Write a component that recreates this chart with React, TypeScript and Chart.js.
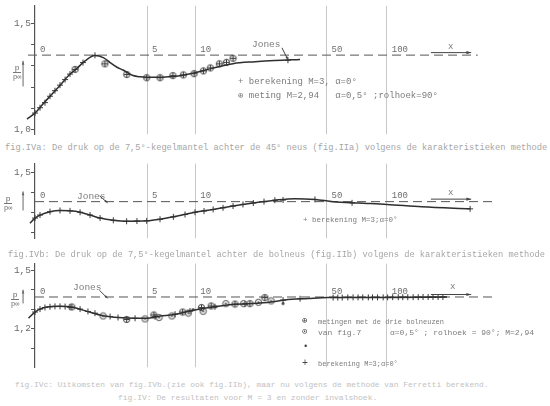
import React, { useEffect, useRef } from 'react';
import { Chart, registerables } from 'chart.js';

Chart.register(...registerables);

// ---------- shared x axis (distance x, plotted on a log(1 + x/2) scale) ----------
const X_TICKS = [0, 5, 10, 50, 100];
const X_TICK_LABELS = ['0', '5', '10', '50', '100'];
const toU = (x: number) => Math.log10(1 + x / 2);

// ---------- fig. IVa ----------
const A_CURVE_X = [-0.17, 0, 0.16, 0.37, 0.65, 0.96, 1.19, 1.5, 1.91, 2.29, 2.63, 3.0, 3.35, 3.98, 4.47, 5.0, 6.09, 7.36, 8.46, 9.96, 12.6, 16.3, 21.4, 27.2, 36.7];
const A_CURVE_P = [1.05, 1.078, 1.115, 1.158, 1.209, 1.261, 1.287, 1.323, 1.348, 1.338, 1.315, 1.293, 1.28, 1.254, 1.248, 1.246, 1.246, 1.25, 1.256, 1.267, 1.289, 1.31, 1.319, 1.325, 1.33];
const A_CROSS_X = [-0.15, 0, 0.115, 0.236, 0.365, 0.5, 0.645, 0.8, 0.958, 1.42, 1.91, 31.8];
const A_CROSS_P = [1.052, 1.078, 1.103, 1.127, 1.157, 1.183, 1.209, 1.235, 1.261, 1.315, 1.349, 1.326];
const A_METING_X = [1.13, 2.37, 3.58, 4.97, 6.09, 7.34, 8.5, 9.84, 11.14, 12.2, 13.7, 15.0, 16.3];
const A_METING_P = [1.283, 1.309, 1.259, 1.244, 1.244, 1.254, 1.257, 1.263, 1.276, 1.29, 1.309, 1.316, 1.335];
const A_JONES = 1.35;
const A_JONES_X = [-0.15, 280];
const A_Y_TICKS = [1.0, 1.1, 1.2, 1.3, 1.4, 1.5];
const A_Y_LABELS = ['1,0', '', '', '', '', '1,5'];

// ---------- fig. IVb ----------
const B_CURVE_X = [-0.11, 0, 0.115, 0.365, 0.645, 0.958, 1.31, 1.7, 2.14, 2.8, 3.57, 4.97, 6.09, 7.39, 9.96, 12.65, 16.3, 20.95, 27.2, 34.6, 43.7, 54.1, 72.2, 100.3, 149, 257];
const B_CURVE_P = [1.246, 1.272, 1.287, 1.304, 1.31, 1.308, 1.301, 1.287, 1.272, 1.261, 1.256, 1.258, 1.266, 1.278, 1.301, 1.315, 1.332, 1.347, 1.361, 1.369, 1.365, 1.354, 1.347, 1.34, 1.328, 1.318];
const B_CROSS_X = [-0.11, 0, 0.115, 0.365, 0.645, 0.958, 1.31, 1.7, 2.14, 2.8, 3.57, 4.25, 4.97, 6.09, 7.39, 8.7, 9.96, 11.23, 12.65, 14.36, 16.3, 18.45, 20.95, 23.87, 27.2, 30.0, 43.7, 67.2, 257];
const B_CROSS_P = [1.246, 1.272, 1.287, 1.304, 1.31, 1.308, 1.301, 1.287, 1.272, 1.261, 1.256, 1.257, 1.258, 1.266, 1.278, 1.29, 1.301, 1.307, 1.315, 1.323, 1.332, 1.34, 1.347, 1.354, 1.361, 1.362, 1.365, 1.348, 1.318];
const B_JONES = 1.354;
const B_JONES_X = [0, 340];
const B_Y_TICKS = [1.2, 1.3, 1.4, 1.5];
const B_Y_LABELS = ['', '', '', '1,5'];

// ---------- fig. IVc ----------
const C_CURVE_X = [-0.14, 0, 0.115, 0.28, 0.645, 1.07, 1.56, 2.28, 3.57, 4.97, 6.09, 7.39, 9.96, 12.65, 16.3, 22.7, 27.2, 30.7, 40.3, 50.9, 100.3, 198];
const C_CURVE_P = [1.254, 1.285, 1.3, 1.311, 1.314, 1.308, 1.289, 1.266, 1.254, 1.253, 1.265, 1.271, 1.296, 1.311, 1.324, 1.331, 1.339, 1.347, 1.354, 1.359, 1.36, 1.362];
const C_CROSS_X = [-0.14, 0, 0.115, 0.236, 0.365, 0.5, 0.645, 0.8, 0.958, 1.31, 1.615, 1.91, 2.63, 3.06, 4.12, 5.65, 7.57, 9.31, 12.95, 18.9, 30.0, 36.7, 54, 57, 60, 64, 68, 72, 76, 81, 85, 90, 96, 101, 107, 114, 120, 127, 135, 143, 151, 160, 169, 179, 189];
const C_CROSS_P = [1.254, 1.285, 1.3, 1.308, 1.312, 1.314, 1.314, 1.313, 1.31, 1.3, 1.288, 1.279, 1.262, 1.257, 1.253, 1.261, 1.274, 1.29, 1.312, 1.326, 1.346, 1.353, 1.359, 1.359, 1.359, 1.36, 1.36, 1.36, 1.36, 1.36, 1.36, 1.36, 1.36, 1.36, 1.361, 1.361, 1.361, 1.361, 1.361, 1.361, 1.362, 1.362, 1.362, 1.362, 1.362];
const C_METING1_X = [1.02, 3.57, 5.55, 8.42, 10.86, 12.33, 16.7, 20.1, 24.1];
const C_METING1_P = [1.311, 1.247, 1.27, 1.285, 1.308, 1.316, 1.326, 1.328, 1.359];
const C_METING2_X = [2.28, 4.84, 6.0, 7.24, 9.1, 11.1, 14.9, 18.6, 22.3, 26.0];
const C_METING2_P = [1.265, 1.25, 1.257, 1.265, 1.28, 1.289, 1.328, 1.328, 1.335, 1.342];
const C_METING3_X = [9.7, 13.1, 30.0];
const C_METING3_P = [1.297, 1.312, 1.328];
const C_JONES = 1.362;
const C_JONES_X = [0, 340];
const C_Y_TICKS = [1.1, 1.2, 1.3, 1.4, 1.5];
const C_Y_LABELS = ['', '1,2', '', '', '1,5'];

const FONT = "'Liberation Mono', 'DejaVu Sans Mono', monospace";
const INK = '#2f2f2f';

type Meting = { xs: number[]; ps: number[]; marker: 'plus' | 'dot' | 'small' };
type Panel = {
  top: number; height: number; yMin: number; yMax: number;
  yTicks: number[]; yLabels: string[];
  jones: number; jonesX: number[];
  curveX: number[]; curveP: number[];
  crossX: number[]; crossP: number[];
  metings: Meting[];
  jonesTip: number[]; jonesTail: number[];
  yArrow: number[];
};

const PANELS: Panel[] = [
  {
    top: 0, height: 140, yMin: 0.9784, yMax: 1.5819, yTicks: A_Y_TICKS, yLabels: A_Y_LABELS,
    jones: A_JONES, jonesX: A_JONES_X, curveX: A_CURVE_X, curveP: A_CURVE_P,
    crossX: A_CROSS_X, crossP: A_CROSS_P,
    metings: [{ xs: A_METING_X, ps: A_METING_P, marker: 'plus' }],
    jonesTip: [31.8, 1.328], jonesTail: [-6, -12], yArrow: [1.203, 1.323],
  },
  {
    top: 158, height: 86, yMin: 1.171, yMax: 1.5433, yTicks: B_Y_TICKS, yLabels: B_Y_LABELS,
    jones: B_JONES, jonesX: B_JONES_X, curveX: B_CURVE_X, curveP: B_CURVE_P,
    crossX: B_CROSS_X, crossP: B_CROSS_P, metings: [],
    jonesTip: [2.5, 1.348], jonesTail: [-8, -7], yArrow: [1.31, 1.405],
  },
  {
    top: 258, height: 115, yMin: 1.0023, yMax: 1.5323, yTicks: C_Y_TICKS, yLabels: C_Y_LABELS,
    jones: C_JONES, jonesX: C_JONES_X, curveX: C_CURVE_X, curveP: C_CURVE_P,
    crossX: C_CROSS_X, crossP: C_CROSS_P,
    metings: [
      { xs: C_METING1_X, ps: C_METING1_P, marker: 'plus' },
      { xs: C_METING2_X, ps: C_METING2_P, marker: 'dot' },
      { xs: C_METING3_X, ps: C_METING3_P, marker: 'small' },
    ],
    jonesTip: [2.5, 1.355], jonesTail: [-8, -8], yArrow: [1.329, 1.399],
  },
];

const pts = (xs: number[], ps: number[]) => xs.map((x, i) => ({ x: toU(x), y: ps[i] }));

function makeMarker(kind: 'plus' | 'dot' | 'small'): HTMLCanvasElement {
  const c = document.createElement('canvas');
  c.width = 9; c.height = 9;
  const g = c.getContext('2d')!;
  g.strokeStyle = '#3a3a3a'; g.fillStyle = '#3a3a3a'; g.lineWidth = 1;
  if (kind === 'small') {
    g.beginPath(); g.arc(4.5, 4.5, 1.4, 0, Math.PI * 2); g.fill();
    return c;
  }
  g.beginPath(); g.arc(4.5, 4.5, 3.1, 0, Math.PI * 2); g.stroke();
  if (kind === 'plus') {
    g.beginPath(); g.moveTo(4.5, 1.6); g.lineTo(4.5, 7.4); g.moveTo(1.6, 4.5); g.lineTo(7.4, 4.5); g.stroke();
  } else {
    g.beginPath(); g.arc(4.5, 4.5, 1.1, 0, Math.PI * 2); g.fill();
  }
  return c;
}

function arrow(ctx: CanvasRenderingContext2D, x1: number, y1: number, x2: number, y2: number, head: number) {
  ctx.beginPath(); ctx.moveTo(x1, y1); ctx.lineTo(x2, y2); ctx.stroke();
  const a = Math.atan2(y2 - y1, x2 - x1);
  ctx.beginPath();
  ctx.moveTo(x2, y2);
  ctx.lineTo(x2 - head * Math.cos(a - 0.32), y2 - head * Math.sin(a - 0.32));
  ctx.lineTo(x2 - head * Math.cos(a + 0.32), y2 - head * Math.sin(a + 0.32));
  ctx.closePath(); ctx.fill();
}

function buildConfig(p: Panel, markers: Record<string, HTMLCanvasElement>): any {
  const datasets: any[] = [
    {
      data: pts(p.curveX, p.curveP), showLine: true, cubicInterpolationMode: 'monotone',
      borderColor: INK, borderWidth: 1.5, pointRadius: 0, clip: false,
    },
    {
      data: pts(p.crossX, p.crossP), showLine: false, pointStyle: 'cross', pointRadius: 3,
      borderColor: '#3a3a3a', borderWidth: 1, clip: false,
    },
    ...p.metings.map((m) => ({
      data: pts(m.xs, m.ps), showLine: false, pointStyle: markers[m.marker], pointRadius: 4,
      clip: false,
    })),
    {
      data: pts(p.jonesX, [p.jones, p.jones]), showLine: true, borderDash: [9, 5],
      borderColor: '#555', borderWidth: 1, pointRadius: 0, clip: false,
    },
  ];

  const deco = {
    id: 'deco',
    afterDatasetsDraw(chart: any) {
      const { ctx, scales } = chart;
      const xs = scales.x, ys = scales.y;
      ctx.save();
      ctx.strokeStyle = '#444'; ctx.fillStyle = '#444'; ctx.lineWidth = 1;
      const tx = xs.getPixelForValue(toU(p.jonesTip[0]));
      const ty = ys.getPixelForValue(p.jonesTip[1]);
      arrow(ctx, tx + p.jonesTail[0], ty + p.jonesTail[1], tx, ty, 3.5);
      const jy = ys.getPixelForValue(p.jones) - 2.5;
      arrow(ctx, xs.getPixelForValue(toU(165)), jy, xs.getPixelForValue(toU(260)), jy, 5);
      const ax = xs.getPixelForValue(toU(-0.25));
      ctx.strokeStyle = '#666'; ctx.fillStyle = '#666';
      arrow(ctx, ax, ys.getPixelForValue(p.yArrow[0]), ax, ys.getPixelForValue(p.yArrow[1]), 4);
      ctx.restore();
    },
  };

  return {
    type: 'scatter',
    data: { datasets },
    plugins: [deco],
    options: {
      animation: false,
      responsive: false,
      devicePixelRatio: 1,
      layout: { autoPadding: false, padding: 0 },
      plugins: { legend: { display: false }, tooltip: { enabled: false } },
      scales: {
        x: {
          type: 'linear', min: 0, max: 2.5,
          position: { y: p.jones },
          afterFit: (s: any) => { s.height = 0; },
          afterBuildTicks: (s: any) => { s.ticks = X_TICKS.map((v) => ({ value: toU(v) })); },
          ticks: {
            autoSkip: false, maxRotation: 0, minRotation: 0, align: 'start', labelOffset: 5, padding: -11,
            color: '#6e6e6e', font: { family: FONT, size: 9 },
            callback: (_v: any, i: number) => X_TICK_LABELS[i],
          },
          grid: {
            color: (c: any) => (c.index === 0 ? 'rgba(0,0,0,0)' : '#c8c8c8'),
            lineWidth: 1, drawTicks: false,
          },
          border: { display: false },
        },
        y: {
          type: 'linear', min: p.yMin, max: p.yMax, position: 'left',
          afterFit: (s: any) => { s.width = 35; },
          afterBuildTicks: (s: any) => { s.ticks = p.yTicks.map((v) => ({ value: v })); },
          ticks: {
            autoSkip: false, padding: 0, color: '#6a6a6a', font: { family: FONT, size: 9.5 },
            callback: (_v: any, i: number) => p.yLabels[i],
          },
          grid: { drawOnChartArea: false, drawTicks: true, tickLength: 4, color: '#555' },
          border: { display: true, color: '#555', width: 1.2 },
        },
      },
    },
  };
}

const T = ({ x, y, s, c, children }: { x: number; y: number; s: number; c: string; children: React.ReactNode }) => (
  <div style={{ position: 'absolute', left: x, top: y - s * 0.6, fontSize: s, lineHeight: `${s * 1.2}px`, color: c, fontFamily: FONT, whiteSpace: 'pre' }}>{children}</div>
);

const Frac = ({ x, y }: { x: number; y: number }) => (
  <div style={{ position: 'absolute', left: x, top: y, fontFamily: FONT, fontSize: 8, lineHeight: '8px', color: '#666', textAlign: 'center' }}>
    <div>p</div>
    <div style={{ borderTop: '1px solid #777', fontSize: 7, lineHeight: '8px' }}>p∞</div>
  </div>
);

const CAP = '#a6a6a6';
const LEG = '#7c7c7c';

export default function App() {
  const refs = useRef<(HTMLCanvasElement | null)[]>([]);

  useEffect(() => {
    const markers = { plus: makeMarker('plus'), dot: makeMarker('dot'), small: makeMarker('small') };
    const charts = PANELS.map((p, i) => new Chart(refs.current[i] as HTMLCanvasElement, buildConfig(p, markers)));
    return () => charts.forEach((c) => c.destroy());
  }, []);

  return (
    <div style={{ position: 'absolute', left: 0, top: 0, width: 550, height: 406, background: '#fff', overflow: 'hidden' }}>
      {PANELS.map((p, i) => (
        <canvas
          key={i}
          ref={(el) => { refs.current[i] = el; }}
          width={550}
          height={p.height}
          style={{ position: 'absolute', left: 0, top: p.top, width: 550, height: p.height }}
        />
      ))}

      {/* fig IVa annotations */}
      <T x={252} y={45} s={9.5} c={LEG}>Jones</T>
      <T x={448} y={47} s={9} c={LEG}>x</T>
      <T x={238} y={82} s={9} c={LEG}>{'+ berekening M=3, α=0°'}</T>
      <T x={238} y={96} s={9} c={LEG}>{'⊕ meting M=2,94   α=0,5° ;rolhoek=90°'}</T>
      <Frac x={13} y={64} />
      <T x={5} y={148} s={8.7} c={CAP}>{'fig.IVa: De druk op de 7,5°-kegelmantel achter de 45° neus (fig.IIa) volgens de karakteristieken methode'}</T>

      {/* fig IVb annotations */}
      <T x={77} y={197} s={9.5} c={LEG}>Jones</T>
      <T x={448} y={193} s={9} c={LEG}>x</T>
      <T x={303} y={220} s={7.5} c={LEG}>{'+ berekening M=3;α=0°'}</T>
      <Frac x={4} y={195} />
      <T x={8} y={255} s={8.7} c={CAP}>{'fig.IVb: De druk op de 7,5°-kegelmantel achter de bolneus (fig.IIb) volgens de karakteristieken methode'}</T>

      {/* fig IVc annotations */}
      <T x={73} y={288} s={9.5} c={LEG}>Jones</T>
      <T x={450} y={287} s={9} c={LEG}>x</T>
      <T x={302} y={321} s={9} c={'#444'}>⊕</T>
      <T x={302} y={332} s={9} c={'#444'}>⊙</T>
      <T x={303} y={347} s={9} c={'#444'}>•</T>
      <T x={302} y={364} s={10} c={'#444'}>+</T>
      <T x={318} y={322} s={7} c={LEG}>{'metingen met de drie bolneuzen'}</T>
      <T x={318} y={333} s={8} c={LEG}>{'van fig.7      α=0,5° ; rolhoek = 90°; M=2,94'}</T>
      <T x={318} y={364} s={7} c={LEG}>{'berekening M=3;α=0°'}</T>
      <Frac x={11} y={291} />
      <T x={15} y={385} s={7.9} c={'#c2c2c2'}>{'fig.IVc: Uitkomsten van fig.IVb.(zie ook fig.IIb), maar nu volgens de methode van Ferretti berekend.'}</T>
      <T x={118} y={398} s={8} c={'#c2c2c2'}>{'fig.IV: De resultaten voor M = 3 en zonder invalshoek.'}</T>
    </div>
  );
}
